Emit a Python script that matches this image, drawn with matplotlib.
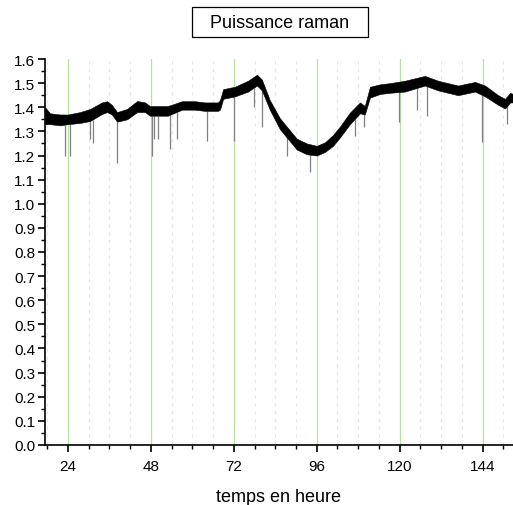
import matplotlib
matplotlib.use("Agg")
import matplotlib.pyplot as plt
from matplotlib.ticker import MultipleLocator, FixedLocator, FormatStrFormatter
from matplotlib.patches import Rectangle
import numpy as np

plt.rcParams['font.family'] = ['Liberation Sans', 'DejaVu Sans']

# Band envelope of the noisy signal (hours, upper, lower)
hours = [17.35, 18.8, 21.7, 24.0, 27.5, 30.4, 33.8, 35.3, 36.7, 38.2, 41.1, 44.0,
         46.3, 47.7, 50.6, 52.9, 57.0, 60.7, 63.6, 67.4, 68.0, 68.9, 72.3, 76.1,
         78.7, 80.1, 82.4, 85.3, 87.3, 90.2, 93.1, 96.0, 98.4, 100.7, 102.7, 105.6,
         108.5, 109.9, 111.4, 114.3, 117.2, 121.5, 127.3, 131.1, 136.9, 141.8,
         144.7, 148.5, 150.5, 152.0, 152.8]
upper = [1.40, 1.375, 1.37, 1.37, 1.38, 1.393, 1.42, 1.425, 1.41, 1.38, 1.393, 1.426,
         1.42, 1.405, 1.405, 1.405, 1.425, 1.425, 1.42, 1.42, 1.43, 1.475, 1.485, 1.51,
         1.535, 1.515, 1.43, 1.355, 1.32, 1.27, 1.25, 1.24, 1.255, 1.285, 1.32, 1.378,
         1.42, 1.405, 1.485, 1.495, 1.50, 1.51, 1.53, 1.51, 1.49, 1.505,
         1.49, 1.45, 1.435, 1.46, 1.455]
lower = [1.33, 1.33, 1.325, 1.33, 1.335, 1.343, 1.372, 1.38, 1.37, 1.34, 1.35, 1.38,
         1.38, 1.365, 1.365, 1.365, 1.39, 1.39, 1.385, 1.385, 1.39, 1.435, 1.445, 1.465,
         1.49, 1.47, 1.39, 1.31, 1.275, 1.225, 1.205, 1.20, 1.215, 1.24, 1.275, 1.33,
         1.375, 1.37, 1.44, 1.455, 1.46, 1.465, 1.49, 1.47, 1.45, 1.465,
         1.445, 1.41, 1.395, 1.42, 1.42]

# Downward spikes (hours, minimum value)
spike_hours = [23.0, 24.6, 30.4, 31.1, 38.2, 48.2, 48.9, 50.0, 53.5, 55.5, 64.2, 72.0,
               77.8, 80.1, 87.3, 94.0, 107.0, 109.6, 119.7, 125.0, 127.9, 143.8, 151.0]
spike_values = [1.198, 1.20, 1.27, 1.25, 1.17, 1.20, 1.27, 1.27, 1.227, 1.27, 1.26, 1.26,
                1.40, 1.32, 1.20, 1.13, 1.28, 1.32, 1.34, 1.39, 1.364, 1.256, 1.33]

title = "Puissance raman"
xlabel = "temps en heure"
x_major = [24, 48, 72, 96, 120, 144]

fig = plt.figure(figsize=(5.13, 5.06), dpi=100)
ax = fig.add_axes([0.0877, 0.1186, 0.9123, 0.7628])

xmin, xmax = 17.34, 152.8
ax.set_xlim(xmin, xmax)
ax.set_ylim(0.0, 1.6)

# grid
for h in range(18, 153, 6):
    if h % 24 == 0:
        ax.axvline(h, color='#b8e0a0', lw=0.9, zorder=0)
    else:
        ax.axvline(h, color='#e4eadc', lw=0.8, ls=(0, (3, 4)), zorder=0)

# spikes
low_at = np.interp(spike_hours, hours, lower)
ax.vlines(spike_hours, spike_values, low_at, color='#808080', lw=0.9, zorder=2)

# band
ax.fill_between(hours, lower, upper, color='black', lw=0.4, edgecolor='black', zorder=3)

ax.spines['top'].set_visible(False)
ax.spines['right'].set_visible(False)

ax.xaxis.set_major_locator(FixedLocator(x_major))
ax.xaxis.set_minor_locator(MultipleLocator(6))
ax.yaxis.set_major_locator(MultipleLocator(0.1))
ax.yaxis.set_minor_locator(MultipleLocator(0.05))
ax.yaxis.set_major_formatter(FormatStrFormatter('%.1f'))

ax.tick_params(axis='both', which='major', direction='out', length=5, width=1.2,
               labelsize=11, colors='black')
ax.tick_params(axis='both', which='minor', direction='out', length=3, width=1.0)
ax.tick_params(axis='x', which='major', pad=5)
ax.tick_params(axis='y', which='major', pad=2)
for s in ('left', 'bottom'):
    ax.spines[s].set_linewidth(1.2)

ax.set_xlabel(xlabel, fontsize=13, labelpad=11)

fig.add_artist(Rectangle((192 / 513, 1 - 38 / 506), 176 / 513, 30 / 506,
                         transform=fig.transFigure, fc='white', ec='black', lw=0.9))
fig.text(280 / 513, 1 - 23 / 506, title, ha='center', va='center', fontsize=13)

fig.savefig('out.png', dpi=100)
